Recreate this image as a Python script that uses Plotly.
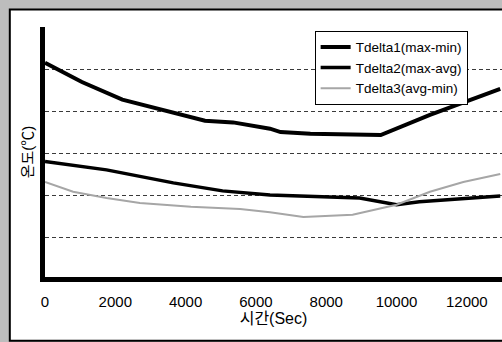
import plotly.graph_objects as go

# ---- data (y in grid units) ----
t1_x = [0, 1050, 2200, 3200, 4550, 5350, 6400, 6700, 7550, 9550, 10950, 12950]
t1_y = [5.17, 4.71, 4.29, 4.07, 3.79, 3.75, 3.60, 3.52, 3.48, 3.45, 3.93, 4.55]

t2_x = [0, 1750, 3650, 5050, 6400, 8300, 8950, 10000, 10650, 12950]
t2_y = [2.82, 2.62, 2.31, 2.12, 2.02, 1.98, 1.95, 1.79, 1.86, 2.00]

t3_x = [0, 800, 1750, 2700, 4150, 5550, 6400, 7350, 8750, 10000, 10950, 11900, 12950]
t3_y = [2.33, 2.10, 1.95, 1.83, 1.74, 1.69, 1.61, 1.50, 1.55, 1.79, 2.10, 2.33, 2.52]

series_names = ["Tdelta1(max-min)", "Tdelta2(max-avg)", "Tdelta3(avg-min)"]
x_ticks = [0, 2000, 4000, 6000, 8000, 10000, 12000]
x_ticktext = ["0", "2000", "4000", "6000", "8000", "10000", "12000"]
y_grid = [1, 2, 3, 4, 5]
x_title = "시간(Sec)"
y_title = "온도(℃)"

FONT = "Liberation Sans, Arial, Noto Sans CJK KR, sans-serif"

fig = go.Figure()
fig.add_trace(go.Scatter(x=t1_x, y=t1_y, mode="lines", name=series_names[0],
                         line=dict(color="black", width=4)))
fig.add_trace(go.Scatter(x=t2_x, y=t2_y, mode="lines", name=series_names[1],
                         line=dict(color="black", width=3.5)))
fig.add_trace(go.Scatter(x=t3_x, y=t3_y, mode="lines", name=series_names[2],
                         line=dict(color="#a6a6a6", width=2)))

fig.update_layout(
    width=502, height=342,
    margin=dict(l=45, r=0, t=27, b=65),
    paper_bgcolor="#bdbdbd",
    plot_bgcolor="rgba(0,0,0,0)",
    font=dict(family=FONT, color="black"),
    showlegend=True,
    legend=dict(x=0.59, y=0.985, xanchor="left", yanchor="top",
                bgcolor="white", bordercolor="black", borderwidth=1,
                font=dict(size=13.5, family=FONT),
                tracegroupgap=0, itemwidth=30),
    shapes=[dict(type="rect", xref="paper", yref="paper",
                 x0=-0.077, x1=1.02, y0=-0.255, y1=1.07,
                 fillcolor="white", line=dict(color="black", width=2),
                 layer="below")],
)

fig.update_xaxes(
    range=[0, 13000], tickvals=x_ticks, ticktext=x_ticktext,
    showgrid=False, zeroline=False, showline=True, linewidth=5, linecolor="black",
    ticks="", tickfont=dict(size=15, family=FONT), ticklabelstandoff=7,
    title=dict(text=x_title, font=dict(size=16, family=FONT), standoff=2),
)
fig.update_yaxes(
    range=[0.07, 6.02], tickvals=y_grid, showticklabels=False,
    showgrid=True, gridcolor="#3a3a3a", gridwidth=1, griddash="4px,3px",
    zeroline=False, showline=True, linewidth=5, linecolor="black", ticks="",
    title=dict(text=y_title, font=dict(size=15, family=FONT), standoff=4),
)

fig.write_html("out.html", config={"displayModeBar": False},
               post_script="document.body.style.margin='0';document.body.style.overflow='hidden';")
